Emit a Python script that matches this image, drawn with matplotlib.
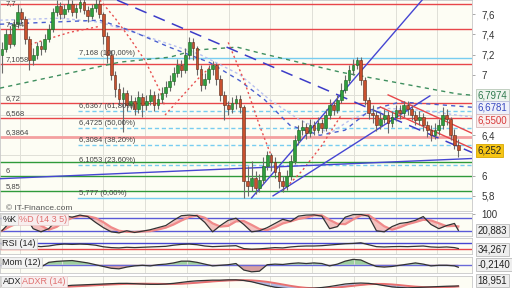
import numpy as np
import pandas as pd
import matplotlib.pyplot as plt
from matplotlib.ticker import FuncFormatter

plt.rcParams['font.family'] = ['Liberation Sans', 'DejaVu Sans']

# ---- candles (one per session) ----
closes = [7.25, 7.40, 7.30, 7.50, 7.62, 7.55, 7.35, 7.15, 7.20, 7.28,
          7.25, 7.35, 7.45, 7.62, 7.68, 7.60, 7.65, 7.70, 7.62, 7.66,
          7.72, 7.64, 7.58, 7.66, 7.70, 7.60, 7.38, 7.20, 7.00, 6.86,
          6.76, 6.82, 6.70, 6.74, 6.66, 6.78, 6.70, 6.74, 6.80, 6.70,
          6.76, 6.82, 6.88, 6.94, 7.02, 7.10, 7.05, 7.20, 7.32, 7.26,
          7.06, 6.90, 6.96, 7.06, 7.10, 6.96, 6.80, 6.70, 6.66, 6.72,
          6.76, 6.68, 5.95, 5.90, 5.98, 5.88, 5.96, 6.10, 6.20, 6.14,
          6.04, 5.95, 5.90, 6.00, 6.15, 6.35, 6.45, 6.48, 6.42, 6.50,
          6.45, 6.52, 6.47, 6.60, 6.70, 6.65, 6.75, 6.85, 6.95, 7.05,
          7.10, 7.15, 6.95, 6.75, 6.62, 6.60, 6.50, 6.56, 6.60, 6.52,
          6.58, 6.65, 6.62, 6.70, 6.66, 6.60, 6.55, 6.58, 6.50, 6.45,
          6.40, 6.45, 6.50, 6.60, 6.56, 6.40, 6.30, 6.252]
highs = [7.32, 7.45, 7.48, 7.55, 7.70, 7.66, 7.58, 7.38, 7.26, 7.32,
         7.33, 7.40, 7.50, 7.66, 7.74, 7.72, 7.70, 7.75, 7.74, 7.70,
         7.76, 7.75, 7.68, 7.70, 7.76, 7.74, 7.62, 7.42, 7.24, 7.04,
         6.92, 6.88, 6.85, 6.80, 6.78, 6.84, 6.82, 6.80, 6.86, 6.84,
         6.82, 6.88, 6.94, 7.00, 7.08, 7.16, 7.15, 7.26, 7.37, 7.36,
         7.28, 7.10, 7.02, 7.10, 7.14, 7.12, 7.00, 6.84, 6.74, 6.78,
         6.80, 6.80, 6.70, 6.10, 6.15, 6.05, 6.02, 6.18, 6.24, 6.22,
         6.18, 6.10, 6.00, 6.06, 6.20, 6.40, 6.50, 6.55, 6.52, 6.56,
         6.54, 6.58, 6.56, 6.66, 6.76, 6.74, 6.80, 6.92, 7.00, 7.10,
         7.16, 7.18, 7.18, 6.98, 6.78, 6.70, 6.64, 6.62, 6.66, 6.64,
         6.64, 6.70, 6.70, 6.74, 6.74, 6.70, 6.64, 6.64, 6.62, 6.54,
         6.50, 6.52, 6.56, 6.68, 6.66, 6.58, 6.46, 6.36]
lows = [7.02, 7.22, 7.26, 7.28, 7.46, 7.50, 7.30, 7.05, 7.10, 7.16,
        7.20, 7.22, 7.32, 7.42, 7.58, 7.55, 7.56, 7.62, 7.58, 7.56,
        7.62, 7.60, 7.52, 7.55, 7.62, 7.56, 7.30, 7.12, 6.95, 6.78,
        6.70, 6.43, 6.64, 6.66, 6.60, 6.62, 6.58, 6.65, 6.70, 6.64,
        6.66, 6.72, 6.78, 6.84, 6.90, 6.98, 6.98, 7.02, 7.16, 7.15,
        7.00, 6.84, 6.86, 6.92, 7.00, 6.90, 6.74, 6.55, 6.60, 6.62,
        6.66, 6.62, 5.78, 5.80, 5.85, 5.82, 5.84, 5.92, 6.06, 6.05,
        5.98, 5.88, 5.84, 5.86, 5.96, 6.12, 6.30, 6.40, 6.36, 6.38,
        6.40, 6.42, 6.42, 6.44, 6.56, 6.60, 6.62, 6.72, 6.82, 6.92,
        7.00, 7.06, 6.90, 6.70, 6.56, 6.52, 6.44, 6.46, 6.52, 6.42,
        6.48, 6.54, 6.56, 6.58, 6.60, 6.55, 6.50, 6.50, 6.44, 6.38,
        6.34, 6.36, 6.40, 6.46, 6.50, 6.35, 6.26, 6.18]
first_open = 7.20

# ---- horizontal levels ----
red_levels = [7.70, 7.454, 7.1058, 6.72, 6.568]
red_labels = ['7,7', '7,454', '7,1058', '6,72', '6,568']
pink_level = 6.3864
green_levels = [6.14, 6.0, 5.85]
green_labels = ['', '6', '5,85']
fib_levels = [7.168, 6.6367, 6.4725, 6.3084, 6.1053, 5.777]
fib_pcts = ['100,00%', '61,80%', '50,00%', '38,20%', '23,60%', '0,00%']
fib_start = 19.5
price_ticks = [5.8, 6.0, 6.4, 7.0, 7.2, 7.4, 7.6]

# ---- overlays (index, price) ----
ma_long_x = [-0.5, 14.9, 30.3, 43.1, 49.5, 60.3, 66.2, 86.7, 116.7, 120.5]
ma_long_y = [6.867, 6.996, 7.125, 7.174, 7.244, 7.273, 7.214, 7.026, 6.81, 6.797]
ma_mid_x = [-0.5, 12.3, 25.1, 32.8, 43.1, 53.3, 61.0, 67.4, 73.8, 81.5, 87.9, 94.4, 102.1, 109.7, 120.5]
ma_mid_y = [7.50, 7.52, 7.54, 7.44, 7.27, 7.12, 6.94, 6.75, 6.50, 6.40, 6.45, 6.65, 6.73, 6.71, 6.678]
ma_dot_x = [-0.5, 15.0, 25.1, 35.4, 50.8, 61.0, 68.7, 76.4, 84.1, 89.2, 96.9, 107.2, 120.5]
ma_dot_y = [7.54, 7.56, 7.52, 7.40, 7.20, 7.00, 6.75, 6.55, 6.42, 6.55, 6.67, 6.65, 6.58]
trend_dash = ([29.5, 120.5], [7.739, 6.23])
trend_flat = ([-0.5, 120.5], [5.97, 6.17])
trend_steep = ([64.0, 107.7], [5.78, 7.739])
trend_low = ([69.5, 109.7], [5.80, 6.79])
chan_top = ([99.0, 120.5], [6.80, 6.42])
chan_bot = ([97.0, 120.5], [6.68, 6.27])
sar_x = [[7.2, 12.3, 17.4, 22.6, 25.1], [25.1, 29.0, 32.8, 36.7, 40.5, 41.8],
         [41.8, 46.0, 50.0, 53.5], [58.0, 62.0, 66.0, 69.0], [72.0, 77.0, 82.0, 87.0]]
sar_y = [[7.30, 7.36, 7.42, 7.46, 7.48], [7.74, 7.56, 7.36, 7.14, 6.84, 6.68],
         [6.60, 6.78, 6.95, 7.08], [7.32, 6.95, 6.50, 6.20], [5.85, 6.05, 6.30, 6.60]]

# ---- indicators ----
ind_x = list(range(0, 118, 2)) + [117]
stoch_k = [20, 60, 90, 90, 30, 15, 30, 70, 92, 85, 95, 88, 60, 35, 15, 10, 20, 12, 18, 25,
           35, 45, 70, 92, 95, 92, 60, 15, 45, 70, 80, 50, 15, 20, 35, 55, 75, 65, 90, 95,
           96, 90, 30, 40, 85, 97, 98, 90, 20, 15, 40, 55, 60, 70, 88, 50, 30, 45, 55, 22]
rsi = [60, 62, 66, 62, 50, 46, 50, 58, 62, 60, 62, 60, 55, 45, 40, 38, 42, 40, 42, 44,
       46, 48, 55, 60, 62, 58, 50, 46, 48, 50, 52, 34, 30, 32, 36, 40, 38, 44, 48, 50,
       50, 52, 56, 60, 64, 66, 70, 58, 46, 44, 46, 47, 46, 48, 50, 44, 42, 44, 40, 34.3]
mom = [0.1, 0.2, 0.25, 0.1, -0.1, -0.2, 0.2, 0.28, 0.32, 0.35, 0.25, 0.15, 0.0, -0.15, -0.3,
       -0.35, -0.2, -0.1, -0.05, -0.1, 0.0, 0.05, 0.15, 0.3, 0.3, 0.2, 0.05, -0.1, -0.05, 0.0,
       0.1, -0.45, -0.6, -0.55, 0.0, 0.05, 0.02, 0.1, 0.15, 0.1, 0.15, 0.1, -0.1, 0.05, 0.3,
       0.45, 0.4, 0.1, -0.15, -0.2, -0.15, -0.05, 0.05, 0.15, 0.05, -0.1, -0.05, -0.05, -0.1, -0.214]
adx = [20, 18, 17, 16, 15, 15, 16, 17, 19, 21, 22, 23, 24, 25, 26, 27, 27, 26, 25, 24,
       24, 25, 27, 30, 33, 35, 36, 37, 37, 38, 38, 36, 32, 26, 20, 15, 12, 10, 10, 11,
       12, 14, 17, 21, 25, 27, 28, 27, 24, 20, 16, 14, 13, 14, 15, 16, 17, 18, 18.5, 18.95]

BG = '#fdfdf4'
W, H = 512, 288
PW = 472
fig = plt.figure(figsize=(5.12, 2.88), dpi=100)
fig.patch.set_facecolor('white')


def panel(top, bottom):
    ax = fig.add_axes([0, 1 - bottom / H, PW / W, (bottom - top) / H])
    ax.set_facecolor(BG)
    ax.set_xlim(-0.5, 120.5)
    for s in ax.spines.values():
        s.set_color('#c8c8c8')
        s.set_linewidth(0.6)
    ax.set_xticks([4.6, 15.3, 26.0, 36.7, 47.4, 58.1, 68.8, 79.5, 90.2, 100.9, 111.6])
    ax.xaxis.grid(True, color='#e0e0d8', lw=0.7)
    ax.tick_params(axis='x', length=0, labelbottom=False)
    ax.yaxis.tick_right()
    ax.tick_params(axis='y', length=2, width=0.5, color='#888888', labelsize=7, pad=5,
                   labelcolor='#333333')
    return ax


comma = FuncFormatter(lambda v, p: ('%g' % round(v, 2)).replace('.', ','))
small = dict(fontsize=5.5, color='#444444', zorder=6)

# ---- main price panel ----
ax = panel(0, 211)
ax.set_ylim(5.65, 7.74)
ax.set_yticks(np.arange(5.8, 7.61, 0.2), minor=True)
ax.yaxis.grid(True, which='minor', color='#e0e0d8', lw=0.7)
ax.tick_params(axis='y', which='minor', length=0)
ax.set_yticks(price_ticks)
ax.yaxis.set_major_formatter(comma)

for lv, lb in zip(red_levels, red_labels):
    ax.axhline(lv, color='#e8464a', lw=1.0, zorder=2)
    if lv > 7.6:
        ax.text(1, 7.738, lb, va='top', **small)
    else:
        ax.text(1, lv + 0.03, lb, **small)
ax.axhline(pink_level, color='#f4a0a0', lw=2.0, zorder=2)
ax.text(1, pink_level + 0.03, '6,3864', **small)
for lv, lb in zip(green_levels, green_labels):
    ax.axhline(lv, color='#2f9a3a', lw=1.0, zorder=2)
    ax.text(1, lv + 0.03, lb, **small)
for k, (lv, pc) in enumerate(zip(fib_levels, fib_pcts)):
    ls = '-' if k in (0, len(fib_levels) - 1) else (0, (3, 2))
    ax.plot([fib_start, 120.5], [lv, lv], color='#78cdf0', lw=1.0, ls=ls, zorder=2)
    ax.text(fib_start + 0.3, lv + 0.03, '%s (%s)' % (('%g' % lv).replace('.', ','), pc), **small)

ax.plot(ma_long_x, ma_long_y, color='#3f8f5f', lw=1.0, ls=(0, (3, 3)), zorder=3)
ax.plot(ma_dot_x, ma_dot_y, color='#b8c0f0', lw=1.0, ls=(0, (2, 2)), zorder=3)
ax.plot(ma_mid_x, ma_mid_y, color='#4a5fd0', lw=1.0, ls=(0, (3, 3)), zorder=3)
for sx, sy in zip(sar_x, sar_y):
    ax.plot(sx, sy, color='#e85050', lw=1.0, ls=(0, (1.5, 2)), zorder=3)

ax.plot(*trend_dash, color='#3c3cc8', lw=1.1, ls=(0, (8, 5)), zorder=4)
for tl in (trend_flat, trend_steep, trend_low):
    ax.plot(*tl, color='#4646d2', lw=1.0, zorder=4)
for tl in (chan_top, chan_bot):
    ax.plot(*tl, color='#e8464a', lw=1.0, zorder=4)

idx = np.arange(len(closes))
opens = np.array([first_open] + closes[:-1])
cl = np.array(closes)
up = cl >= opens
ax.vlines(idx, lows, highs, color='#6a6a6a', lw=0.8, zorder=5)
ax.bar(idx[up], (cl - opens)[up], bottom=opens[up], width=0.7, color='#2e9e3e',
       edgecolor='#1f5f1f', lw=0.4, zorder=5)
ax.bar(idx[~up], (cl - opens)[~up], bottom=opens[~up], width=0.7, color='#c8502e',
       edgecolor='#5a2a1a', lw=0.4, zorder=5)

ax.text(1, 5.66, '\u00a9 IT-Finance.com', fontsize=6, color='#555555', zorder=6)


def box(a, y, txt, fc, ec, tc):
    a.text(1.012, y, txt, transform=a.get_yaxis_transform(), fontsize=7, color=tc,
           va='center', ha='left', clip_on=False, zorder=10,
           bbox=dict(boxstyle='square,pad=0.15', fc=fc, ec=ec, lw=0.6))


def tag(a, px, txt, tc, fc, ec):
    a.text(px / PW, 0.93, txt, transform=a.transAxes, fontsize=6.5, color=tc, va='top',
           ha='left', zorder=10,
           bbox=dict(boxstyle='square,pad=0.12', fc=fc, ec=ec, lw=0.5))


box(ax, 6.7974, '6,7974', '#eef4ee', '#b8c8b8', '#2f7a4f')
box(ax, 6.6781, '6,6781', '#eef0fa', '#b8bcd8', '#3a4ac0')
box(ax, 6.55, '6,5500', '#faeeee', '#d8b8b8', '#d83a3a')
box(ax, 6.252, '6,252', '#f6c515', '#d8a800', '#222222')

# ---- stochastic ----
ax2 = panel(213, 236)
ax2.set_ylim(-5, 105)
ax2.set_yticks([100])
k = pd.Series(stoch_k, dtype=float)
d = k.rolling(3, min_periods=1).mean()
ax2.axhline(80, color='#5a5ad8', lw=1.0)
ax2.axhline(20, color='#5a5ad8', lw=1.0)
ax2.fill_between(ind_x, k, d, color='#f0a8a8', alpha=0.7, lw=0)
ax2.plot(ind_x, d, color='#f08a8a', lw=1.6)
ax2.plot(ind_x, k, color='#333333', lw=0.9)
box(ax2, 20, '20,883', '#eeeeee', '#bbbbbb', '#222222')
tag(ax2, 2.5, '%K', '#222222', '#f2f2f2', '#cccccc')
tag(ax2, 19, '%D (14 3 5)', '#e07070', '#f8eeee', '#e8c8c8')

# ---- RSI ----
ax3 = panel(238, 254)
ax3.set_ylim(0, 100)
ax3.set_yticks([])
ax3.axhline(70, color='#4646d2', lw=1.0)
ax3.axhline(30, color='#e8464a', lw=1.0)
ax3.plot(ind_x, rsi, color='#333333', lw=0.9)
box(ax3, 28, '34,267', '#eeeeee', '#bbbbbb', '#222222')
tag(ax3, 2.5, 'RSI (14)', '#222222', '#f2f2f2', '#cccccc')

# ---- momentum ----
ax4 = panel(257, 273)
ax4.set_ylim(-0.7, 0.65)
ax4.set_yticks([])
m = np.array(mom)
ax4.fill_between(ind_x, m, 0, where=m >= 0, color='#9fd09f', lw=0, interpolate=True)
ax4.fill_between(ind_x, m, 0, where=m < 0, color='#d8a0a0', lw=0, interpolate=True)
ax4.axhline(0, color='#6a6ad8', lw=1.0)
ax4.plot(ind_x, m, color='#333333', lw=0.9)
box(ax4, -0.02, '-0,2140', '#eeeeee', '#bbbbbb', '#222222')
tag(ax4, 2.5, 'Mom (12)', '#222222', '#f2f2f2', '#cccccc')

# ---- ADX ----
ax5 = panel(276, 292)
ax5.set_ylim(0, 50)
ax5.set_yticks([])
a = pd.Series(adx, dtype=float)
ar = a.rolling(6, min_periods=1).mean()
ax5.fill_between(ind_x, a, ar, color='#b0b8e0', lw=0)
ax5.plot(ind_x, ar, color='#e87070', lw=1.4)
ax5.plot(ind_x, a, color='#333333', lw=0.9)
box(ax5, 37, '18,951', '#eeeeee', '#bbbbbb', '#222222')
tag(ax5, 2.5, 'ADX', '#222222', '#f2f2f2', '#cccccc')
tag(ax5, 22, 'ADXR (14)', '#e07070', '#f8eeee', '#e8c8c8')

fig.savefig('out.png', dpi=100, facecolor='white')
